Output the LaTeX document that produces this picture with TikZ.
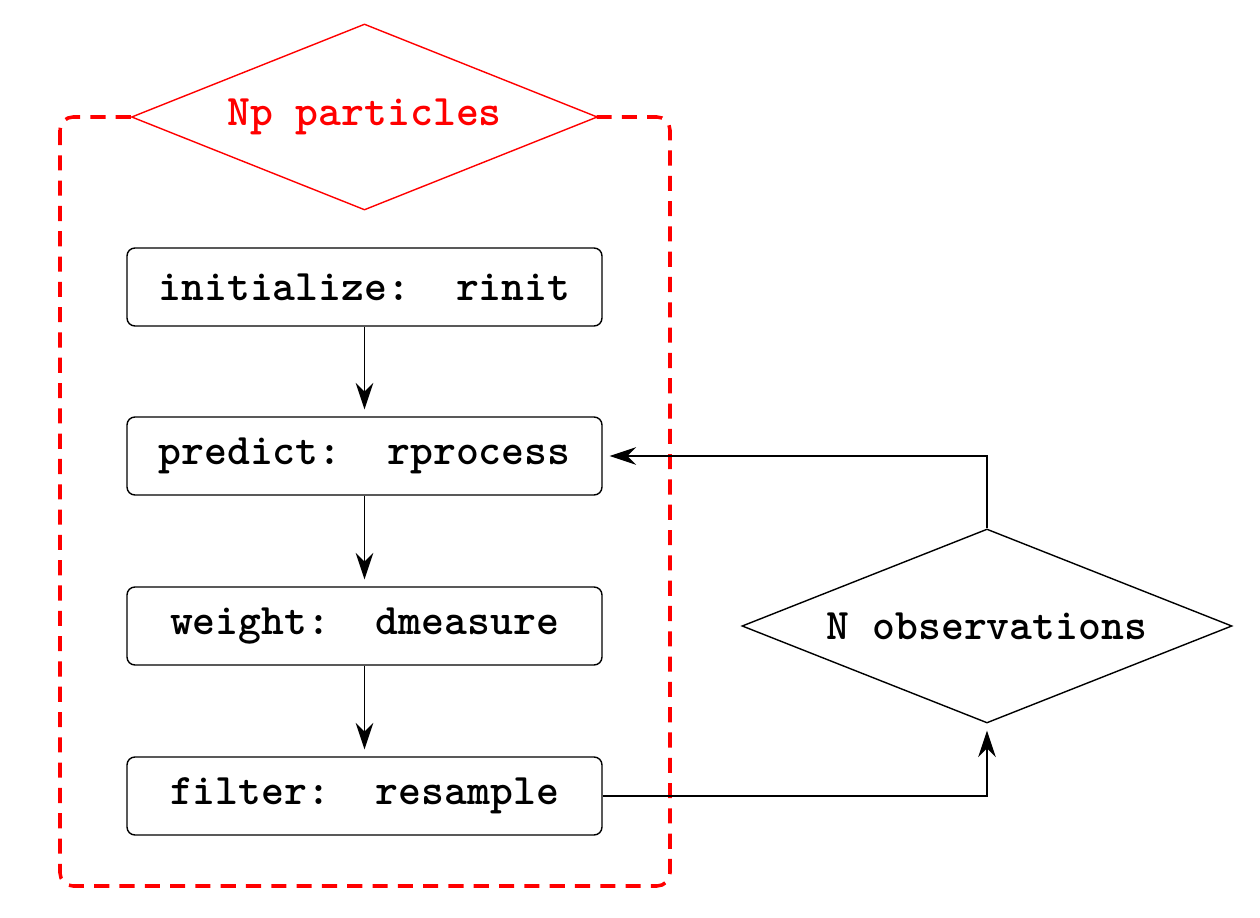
\documentclass[tikz,border=0pt]{standalone}
\usetikzlibrary{shapes.geometric,arrows.meta}
\begin{document}
\begin{tikzpicture}[
  txt/.style={font=\fontsize{12.4}{15}\selectfont\ttfamily\bfseries},
  stepbox/.style={txt, draw, rounded corners=0.08cm, minimum width=4.75cm, minimum height=0.78cm, inner sep=0pt},
  dia/.style={txt, diamond, aspect=2.5, inner sep=0pt, fill=white},
  conn/.style={-{Stealth[length=7.5pt,width=5pt,inset=2.5pt]}, shorten >=2pt, line width=0.45pt},
  frame/.style={red, line width=1pt, dash pattern=on 4.3pt off 2.9pt, rounded corners=0.13cm}
]
\useasboundingbox (0,0) rectangle (12.6,-9.18);
\draw[frame] (0.60,-1.17) rectangle (6.70,-8.86);
\node[dia, draw=red, text=red, minimum width=4.66cm, minimum height=1.86cm] (np) at (3.645,-1.17) {Np particles};
\node[stepbox] (init) at (3.645,-2.87) {initialize:\ \ rinit};
\node[stepbox] (pred) at (3.645,-4.56) {predict:\ \ rprocess};
\node[stepbox] (wgt) at (3.645,-6.26) {weight:\ \ dmeasure};
\node[stepbox] (filt) at (3.645,-7.96) {filter:\ \ resample};
\node[dia, draw, minimum width=4.90cm, minimum height=1.94cm] (obs) at (9.87,-6.26) {N observations};
\draw[conn] (init) -- (pred);
\draw[conn] (pred) -- (wgt);
\draw[conn] (wgt) -- (filt);
\draw[conn] (filt.east) -| (obs.south);
\draw[conn] (obs.north) |- (pred.east);
\end{tikzpicture}
\end{document}
